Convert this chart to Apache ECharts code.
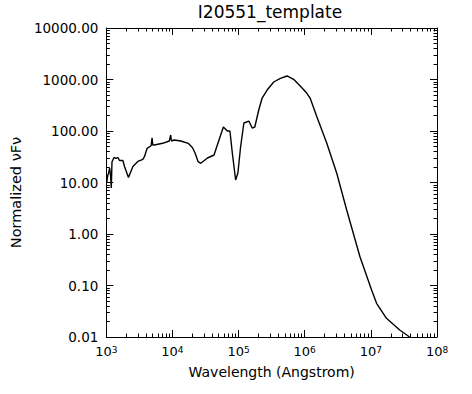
<!DOCTYPE html>
<html>
<head>
<meta charset="utf-8">
<script src="https://cdn.jsdelivr.net/npm/echarts@6/dist/echarts.min.js"></script>
<style>
html,body{margin:0;padding:0;background:#fff;}
#chart{width:472px;height:394px;}
</style>
</head>
<body>
<div id="chart"></div>
<script>
// Wavelength (Angstrom)
var wavelength = [1017,1054,1084,1122,1161,1189,1218,1306,1413,1499,1585,1782,1884,2163,2523,3000,3565,3770,4140,4755,4920,5040,5320,7120,8960,9400,9660,10640,13420,17300,20140,22040,24440,26830,33830,42520,50580,58880,67600,73960,80400,90200,97600,107200,120200,142900,160700,175800,201800,227000,270100,339600,428300,539700,678800,855000,1078000,1210000,1525000,2157000,3050000,4310000,6840000,10260000,12200000,17200000,27300000,38500000];
// Normalized nuFnu
var flux = [10.2,14.0,15.3,19.1,13.4,7.8,25.0,30.6,29.3,30.6,26.7,26.7,20.5,12.5,20.5,25.6,28.2,31.7,46.1,51.8,74,53.5,53.5,57.7,64,83.6,64,66.9,64,57.7,47.4,36.9,25.4,23.6,29.9,34.2,66.9,119.6,100,100,37.4,11.2,15.3,48.9,143,156,114,119.6,256,437,625,894,1055,1170,1010,748,540,432,190,57.7,15.1,2.92,0.362,0.0818,0.0451,0.0231,0.0137,0.01];

var xMajor = [1e3,1e4,1e5,1e6,1e7,1e8];
var yMajor = [0.01,0.1,1,10,100,1000,10000];
var titleText = 'I20551_template';
var xName = 'Wavelength (Angstrom)';
var yName = 'Normalized \u03BDF\u03BD';

function minors(majors){
  var out = [];
  for (var i = 0; i < majors.length - 1; i++) {
    for (var k = 2; k <= 9; k++) out.push(+(majors[i] * k).toPrecision(6));
  }
  return out;
}
var xMinor = minors(xMajor);
var yMinor = minors(yMajor);

var FONT = 'DejaVu Sans';
var axisLineStyle = {color:'#000', width:1};

function xAx(pos, ticks, len, showLine, showLabel, extra){
  var a = {
    type:'log', logBase:10, position:pos, min:1e3, max:1e8, gridIndex:0,
    axisLine:{show:showLine, onZero:false, lineStyle:axisLineStyle},
    axisTick:{show:true, inside:true, length:len, customValues:ticks, lineStyle:{color:'#000', width:1}},
    axisLabel:{show:showLabel},
    splitLine:{show:false}, minorTick:{show:false}, minorSplitLine:{show:false}
  };
  for (var k in extra) a[k] = extra[k];
  return a;
}
function yAx(pos, ticks, len, showLine, showLabel, extra){
  var a = {
    type:'log', logBase:10, position:pos, min:0.01, max:10000, gridIndex:0,
    axisLine:{show:showLine, onZero:false, lineStyle:axisLineStyle},
    axisTick:{show:true, inside:true, length:len, customValues:ticks, lineStyle:{color:'#000', width:1}},
    axisLabel:{show:showLabel},
    splitLine:{show:false}, minorTick:{show:false}, minorSplitLine:{show:false}
  };
  for (var k in extra) a[k] = extra[k];
  return a;
}

var chart = echarts.init(document.getElementById('chart'), null, {renderer:'svg'});
chart.setOption({
  backgroundColor:'#ffffff',
  animation:false,
  title:{
    text:titleText, left:270, top:3, padding:0, textAlign:'center',
    textStyle:{fontFamily:FONT, fontSize:17, fontWeight:'normal', color:'#000'}
  },
  grid:{left:105, right:35, top:28, bottom:57, containLabel:false},
  xAxis:[
    xAx('bottom', xMajor, 7, true, true, {
      name:xName, nameLocation:'middle', nameGap:28,
      nameTextStyle:{fontFamily:FONT, fontSize:14, color:'#000'},
      axisLabel:{show:true, margin:8, customValues:xMajor, color:'#000', fontFamily:FONT, fontSize:13,
        formatter:function(v){ return '10{s|' + Math.round(Math.log10(v)) + '}'; },
        rich:{s:{fontSize:9, fontFamily:FONT, color:'#000', verticalAlign:'top', lineHeight:12}}
      }
    }),
    xAx('bottom', xMinor, 3.5, false, false, {}),
    xAx('top', xMajor, 7, true, false, {}),
    xAx('top', xMinor, 3.5, false, false, {})
  ],
  yAxis:[
    yAx('left', yMajor, 7, true, true, {
      name:yName, nameLocation:'middle', nameGap:83,
      nameTextStyle:{fontFamily:FONT, fontSize:14.5, color:'#000', padding:[0,20,0,0]},
      axisLabel:{show:true, margin:8, customValues:yMajor, color:'#000', fontFamily:FONT, fontSize:13.5,
        formatter:function(v){ return Number(v).toFixed(2); }
      }
    }),
    yAx('left', yMinor, 3.5, false, false, {}),
    yAx('right', yMajor, 7, true, false, {}),
    yAx('right', yMinor, 3.5, false, false, {})
  ],
  series:[{
    type:'line', xAxisIndex:0, yAxisIndex:0,
    data: wavelength.map(function(w, i){ return [w, flux[i]]; }),
    showSymbol:false, symbol:'none', smooth:false,
    lineStyle:{color:'#000', width:1.4},
    clip:true
  }]
});
</script>
</body>
</html>
